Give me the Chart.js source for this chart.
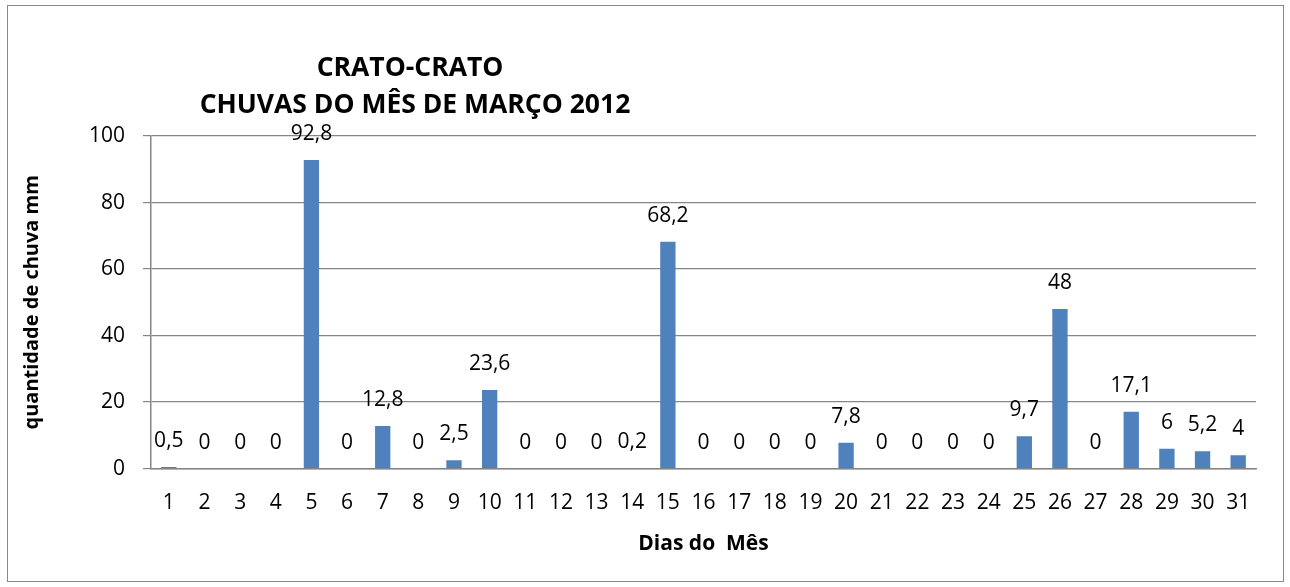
<!DOCTYPE html>
<html>
<head>
<meta charset="utf-8">
<script src="https://cdn.jsdelivr.net/npm/chart.js@4/dist/chart.umd.min.js"></script>
<style>
  html, body { margin: 0; padding: 0; background: #fff; }
  #wrap { position: relative; width: 1290px; height: 587px; }
  #frame { position: absolute; left: 7px; top: 5px; width: 1277px; height: 577px; border: 1.5px solid #888; box-sizing: border-box; pointer-events: none; }
</style>
</head>
<body>
<div id="wrap">
  <canvas id="chart" width="1290" height="587"></canvas>
  <div id="frame"></div>
</div>
<script>
const days = ['1','2','3','4','5','6','7','8','9','10','11','12','13','14','15','16',
  '17','18','19','20','21','22','23','24','25','26','27','28','29','30','31'];
const rainfall = [0.5, 0, 0, 0, 92.8, 0, 12.8, 0, 2.5, 23.6, 0, 0, 0, 0.2, 68.2, 0,
  0, 0, 0, 7.8, 0, 0, 0, 0, 9.7, 48, 0, 17.1, 6, 5.2, 4];
const titleLines = ['CRATO-CRATO', 'CHUVAS DO MÊS DE MARÇO 2012'];
const fontFamily = "'Open Sans', 'Noto Sans', sans-serif";

const fmt = (v) => String(v).replace('.', ',');

// value labels above the bars plus the off-centre title
const labelsPlugin = {
  id: 'labels',
  afterDatasetsDraw(chart) {
    const ctx = chart.ctx;
    const meta = chart.getDatasetMeta(0);
    ctx.save();
    ctx.fillStyle = '#000';
    ctx.font = `21px ${fontFamily}`;
    ctx.textAlign = 'center';
    ctx.textBaseline = 'middle';
    meta.data.forEach((bar, i) => {
      ctx.fillText(fmt(rainfall[i]), bar.x, bar.y - 26);
    });
    ctx.font = `bold 26.5px ${fontFamily}`;
    ctx.fillText(titleLines[0], 410, 68);
    ctx.fillText(titleLines[1], 415, 105);
    ctx.restore();
  },
};

new Chart(document.getElementById('chart'), {
  type: 'bar',
  data: {
    labels: days,
    datasets: [{
      data: rainfall,
      backgroundColor: '#4f81bd',
      categoryPercentage: 1,
      barPercentage: 0.43,
    }],
  },
  options: {
    responsive: false,
    animation: false,
    layout: { padding: { top: 136, left: 16, right: 34, bottom: 30 } },
    plugins: {
      legend: { display: false },
      tooltip: { enabled: false },
    },
    scales: {
      x: {
        grid: { display: false, drawTicks: false },
        border: { color: '#868686', width: 1.5 },
        ticks: { color: '#000', font: { family: fontFamily, size: 21 }, padding: 22, maxRotation: 0, autoSkip: false },
        title: { display: true, text: 'Dias do  Mês', color: '#000', font: { family: fontFamily, size: 21, weight: 'bold' }, padding: { top: -6, bottom: 0 } },
      },
      y: {
        min: 0,
        max: 100,
        ticks: { stepSize: 20, color: '#000', font: { family: fontFamily, size: 21 }, padding: 18 },
        grid: { color: '#868686', lineWidth: 1.2, tickLength: 8 },
        border: { color: '#868686', width: 1.5 },
        title: { display: true, text: 'quantidade de chuva mm', color: '#000', font: { family: fontFamily, size: 20, weight: 'bold' }, padding: { top: 4, bottom: 27 } },
      },
    },
  },
  plugins: [labelsPlugin],
});
</script>
</body>
</html>
